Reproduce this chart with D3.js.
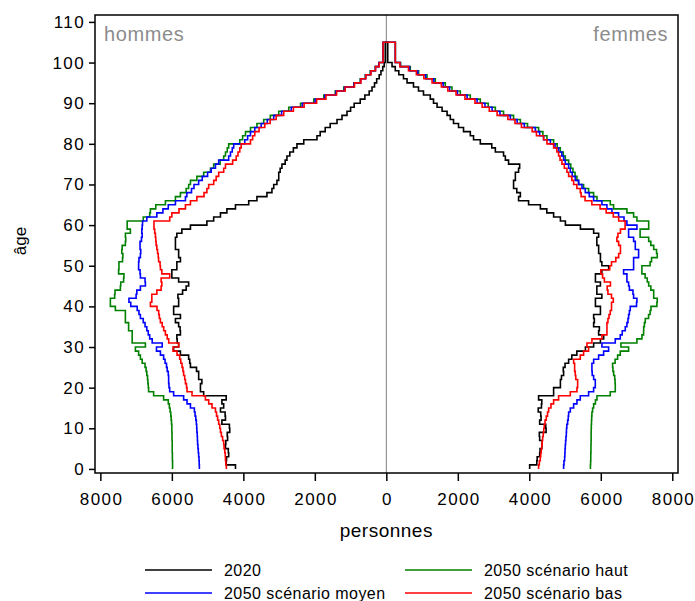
<!DOCTYPE html>
<html>
<head>
<meta charset="utf-8">
<script src="https://cdn.jsdelivr.net/npm/d3@7"></script>
<style>
  body { margin: 0; background: #fff; }
  text { font-family: "Liberation Sans", Arial, sans-serif; }
</style>
</head>
<body>
<div id="chart"></div>
<script>
// ages 0..104 (the last group closes the pyramid at 105)
const ages = d3.range(0, 105);

// hommes
const menBlack = [4220,4480,4470,4410,4420,4500,4490,4440,4450,4380,
  4390,4600,4500,4510,4640,4550,4600,4480,5110,5200,
  5200,5160,5250,5250,5310,5480,5500,5530,5760,5950,
  5810,5850,5860,5760,5770,5810,5900,5760,5950,5950,
  5810,5810,5830,5700,5600,5530,5810,6000,6000,5860,
  5860,5760,5810,5810,5900,5900,5900,5860,5720,5480,
  5020,4830,4640,4460,4220,3850,3620,3340,3200,3150,
  3060,3010,3010,2970,2920,2830,2780,2700,2600,2500,
  2310,1940,1850,1710,1570,1380,1240,1100,1000,900,
  730,600,480,400,330,270,200,150,100,60,
  30,30,30,30,30];
const menGreen = [5980,5980,5985,5985,5990,5990,5990,5995,5995,6000,
  6000,6010,6020,6030,6050,6070,6100,6230,6510,6650,
  6660,6670,6680,6700,6720,6750,6830,6880,6930,7020,
  6740,7110,7110,7110,7210,7210,7300,7300,7300,7580,
  7720,7720,7600,7590,7440,7430,7350,7340,7490,7480,
  7480,7380,7370,7400,7390,7300,7290,7300,7160,7250,
  7250,6800,6620,6600,6450,6180,5900,5760,5600,5530,
  5480,5300,5110,4920,4830,4650,4550,4500,4450,4410,
  4100,4020,3940,3800,3620,3430,3245,3010,2730,2400,
  2030,1750,1430,1190,910,730,590,450,310,210,
  90,90,90,90,90];
const menBlue = [5230,5235,5240,5250,5260,5270,5280,5285,5290,5300,
  5305,5315,5330,5350,5370,5480,5575,5670,5950,6060,
  6080,6090,6090,6100,6130,6150,6190,6230,6320,6430,
  6270,6550,6620,6660,6700,6750,6800,6880,6920,6970,
  7150,7200,7000,6980,6880,6740,6750,6880,6890,6930,
  6930,6920,6880,6870,6890,6890,6850,6830,6840,6830,
  6820,6700,6420,6250,6100,5900,5620,5580,5450,5380,
  5250,5150,5000,4900,4780,4690,4410,4360,4310,4270,
  3960,3880,3800,3680,3500,3330,3150,2930,2660,2350,
  1990,1720,1410,1170,900,720,580,440,305,210,
  90,90,90,90,90];
const menRed = [4475,4490,4500,4505,4520,4540,4550,4580,4615,4640,
  4660,4690,4720,4750,4780,4876,4969,5062,5435,5575,
  5590,5620,5640,5670,5690,5715,5750,5781,5855,5967,
  5808,6088,6130,6181,6228,6270,6321,6350,6368,6415,
  6600,6560,6560,6420,6300,6280,6300,6060,6280,6320,
  6330,6370,6380,6400,6420,6440,6450,6460,6480,6500,
  6500,6060,6000,5800,5620,5480,5300,5100,5020,4970,
  4830,4760,4690,4550,4500,4300,4200,4150,4100,4060,
  3800,3740,3680,3560,3400,3250,3080,2870,2600,2300,
  1950,1690,1390,1150,890,710,570,430,300,200,
  90,90,90,90,90];

// femmes
const womenBlack = [4010,4210,4220,4290,4300,4350,4360,4290,4280,4470,
  4460,4290,4330,4320,4250,4340,4350,4260,4680,4680,
  4870,4870,4900,4960,4950,5000,5100,5190,5330,5570,
  5800,5990,6080,5940,5960,5800,5820,5800,5990,5990,
  5850,5850,6030,5890,5890,5990,5850,5850,6030,6220,
  6030,5990,5990,5940,5940,5890,5890,5940,5800,5430,
  5010,4870,4680,4490,4310,3980,3700,3750,3650,3560,
  3560,3610,3610,3700,3730,3420,3330,3280,3050,2950,
  2630,2440,2350,2160,2020,1880,1790,1700,1560,1420,
  1320,1230,1040,900,760,580,480,350,250,160,
  40,40,40,40,40];
const womenGreen = [5710,5715,5720,5720,5725,5725,5728,5730,5730,5732,
  5735,5740,5745,5752,5770,5800,5850,5893,6265,6405,
  6405,6400,6390,6360,6340,6330,6400,6470,6545,6778,
  6563,7011,7151,7197,7200,7220,7244,7337,7380,7403,
  7570,7580,7480,7480,7400,7340,7300,7240,7150,7150,
  7380,7420,7580,7560,7480,7400,7340,7100,7100,7340,
  7340,7011,6918,6731,6358,6265,5893,5799,5659,5519,
  5379,5333,5280,5221,5160,5100,5007,4950,4867,4780,
  4680,4494,4380,4261,3950,3750,3560,3280,3050,2850,
  2629,2349,2070,1837,1650,1371,1137,904,671,400,
  252,252,252,252,252];
const womenBlue = [4960,4970,4988,4995,5000,5007,5015,5025,5035,5040,
  5050,5072,5090,5100,5147,5240,5333,5426,5659,5799,
  5846,5846,5800,5760,5752,5752,5800,5939,6079,6219,
  6032,6405,6545,6600,6685,6731,6760,6778,6800,6824,
  7000,7011,6918,6900,6800,6778,6731,6731,6638,6918,
  6918,6918,7058,7058,6965,6965,6918,6778,6778,7011,
  6731,6650,6498,6312,6172,6032,5799,5677,5566,5473,
  5379,5286,5200,5147,5100,5007,4960,4910,4820,4720,
  4590,4400,4290,4170,3860,3660,3470,3180,2960,2760,
  2540,2260,1990,1770,1590,1330,1100,880,650,390,
  252,252,252,252,252];
const womenRed = [4260,4280,4307,4320,4335,4350,4360,4373,4390,4405,
  4419,4440,4475,4510,4541,4606,4680,4820,5147,5333,
  5352,5352,5300,5286,5268,5268,5240,5426,5519,5659,
  5613,5752,6032,6172,6172,6172,6200,6230,6265,6300,
  6300,6350,6300,6200,6180,6270,6100,6050,6000,6250,
  6300,6420,6500,6550,6550,6500,6450,6480,6550,6680,
  6680,6500,6350,6150,5980,5750,5560,5450,5426,5330,
  5240,5190,5100,5053,4980,4913,4860,4820,4770,4680,
  4494,4400,4200,4080,3780,3600,3400,3100,2880,2680,
  2480,2200,1950,1720,1540,1280,1050,840,620,380,
  252,252,252,252,252];

const xTicks = [-8000, -6000, -4000, -2000, 0, 2000, 4000, 6000, 8000];
const yTicks = [0, 10, 20, 30, 40, 50, 60, 70, 80, 90, 100, 110];

const series = [
  {name: "2020", color: "#000000", men: menBlack, women: womenBlack},
  {name: "2050 scénario haut", color: "#008000", men: menGreen, women: womenGreen},
  {name: "2050 scénario moyen", color: "#0000ff", men: menBlue, women: womenBlue},
  {name: "2050 scénario bas", color: "#ff0000", men: menRed, women: womenRed}
];

const width = 695, height = 601;
const plot = {left: 95, right: 678, top: 15, bottom: 473};

let svg = d3.select("#chart")
    .append("svg")
    .attr("width", width)
    .attr("height", height);

let x = d3.scaleLinear()
    .domain([-8150, 8160])
    .range([plot.left, plot.right]);

let y = d3.scaleLinear()
    .domain([-1, 111.7])
    .range([plot.bottom, plot.top]);

// center line
svg.append("line")
    .attr("x1", x(0)).attr("x2", x(0))
    .attr("y1", plot.top).attr("y2", plot.bottom)
    .attr("stroke", "#808080")
    .attr("stroke-width", 1);

let line = d3.line()
    .x(d => x(d[0]))
    .y(d => y(d[1]))
    .curve(d3.curveStepBefore);

function sidePoints(vals, sign) {
    let pts = ages.map((a, i) => [sign * vals[i], a]);
    pts.push([sign * vals[vals.length - 1], 105]);
    pts.push([0, 105]);
    return pts;
}

series.forEach(function(s) {
    [[s.men, -1], [s.women, 1]].forEach(function(side) {
        svg.append("path")
            .datum(sidePoints(side[0], side[1]))
            .attr("fill", "none")
            .attr("stroke", s.color)
            .attr("stroke-width", 1.6)
            .attr("d", line);
    });
});

// frame
svg.append("rect")
    .attr("x", plot.left).attr("y", plot.top)
    .attr("width", plot.right - plot.left)
    .attr("height", plot.bottom - plot.top)
    .attr("fill", "none")
    .attr("stroke", "#000")
    .attr("stroke-width", 1.5);

// y axis
let yAxis = svg.append("g")
    .attr("transform", `translate(${plot.left},0)`)
    .call(d3.axisLeft(y).tickValues(yTicks).tickSize(6).tickPadding(4));
yAxis.select(".domain").remove();
yAxis.selectAll("line").attr("stroke-width", 1.5);
yAxis.selectAll("text")
    .attr("fill", "#000")
    .attr("font-family", "Liberation Sans, Arial, sans-serif")
    .style("font-size", "17px")
    .style("letter-spacing", "1.4px");

// x axis
let xAxis = svg.append("g")
    .attr("transform", `translate(0,${plot.bottom})`)
    .call(d3.axisBottom(x).tickValues(xTicks).tickSize(8).tickPadding(12)
        .tickFormat(d => Math.abs(d)));
xAxis.select(".domain").remove();
xAxis.selectAll("line").attr("stroke-width", 1.5);
xAxis.selectAll("text")
    .attr("fill", "#000")
    .attr("dx", 0.7)
    .attr("font-family", "Liberation Sans, Arial, sans-serif")
    .style("font-size", "17px")
    .style("letter-spacing", "1.4px");

// axis titles
svg.append("text")
    .attr("x", x(0)).attr("y", 537)
    .style("text-anchor", "middle")
    .style("font-size", "19px")
    .style("letter-spacing", "0.5px")
    .text("personnes");

svg.append("text")
    .attr("transform", "translate(26,241) rotate(-90)")
    .style("text-anchor", "middle")
    .style("font-size", "17px")
    .text("âge");

// side labels
svg.append("text")
    .attr("x", 104).attr("y", 41)
    .style("font-size", "20px")
    .style("letter-spacing", "0.6px")
    .attr("fill", "#8c8c8c")
    .text("hommes");

svg.append("text")
    .attr("x", 668).attr("y", 41)
    .style("text-anchor", "end")
    .style("font-size", "20px")
    .style("letter-spacing", "0.6px")
    .attr("fill", "#8c8c8c")
    .text("femmes");

// legend
const legendPos = [[145, 570], [405, 570], [145, 593], [405, 593]];
series.forEach(function(s, i) {
    let p = legendPos[i];
    svg.append("line")
        .attr("x1", p[0]).attr("x2", p[0] + 67)
        .attr("y1", p[1]).attr("y2", p[1])
        .attr("stroke", s.color)
        .attr("stroke-width", 1.5);
    svg.append("text")
        .attr("x", p[0] + 79).attr("y", p[1] + 6)
        .style("font-size", "16px")
        .style("letter-spacing", "0.45px")
        .text(s.name);
});
</script>
</body>
</html>
